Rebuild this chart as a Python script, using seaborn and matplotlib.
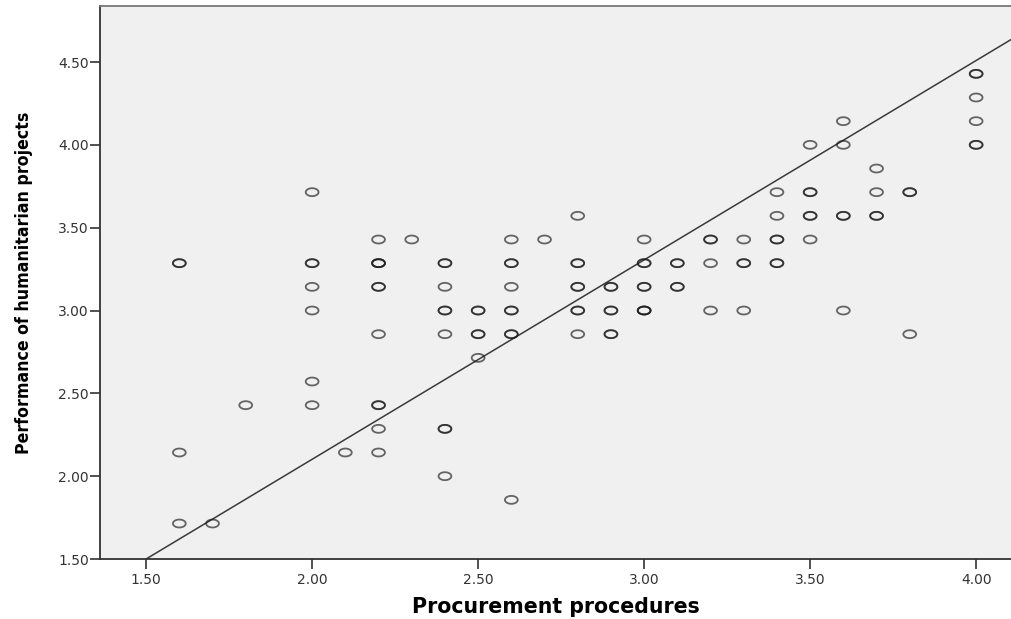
import numpy as np
import pandas as pd
import matplotlib
matplotlib.use("Agg")
import matplotlib.pyplot as plt
from matplotlib import font_manager
from matplotlib.path import Path
import seaborn as sns

# procurement score, performance score, number of cases at that point
proc_x = [1.6, 1.6, 1.6,
          1.7, 1.8,
          2.0, 2.0, 2.0, 2.0, 2.0, 2.0,
          2.1,
          2.2, 2.2, 2.2, 2.2, 2.2, 2.2, 2.2,
          2.3,
          2.4, 2.4, 2.4, 2.4, 2.4, 2.4,
          2.5, 2.5, 2.5,
          2.6, 2.6, 2.6, 2.6, 2.6, 2.6,
          2.7,
          2.8, 2.8, 2.8, 2.8, 2.8,
          2.9, 2.9, 2.9,
          3.0, 3.0, 3.0, 3.0,
          3.1, 3.1,
          3.2, 3.2, 3.2,
          3.3, 3.3, 3.3,
          3.4, 3.4, 3.4, 3.4,
          3.5, 3.5, 3.5, 3.5,
          3.6, 3.6, 3.6, 3.6,
          3.7, 3.7, 3.7,
          3.8, 3.8,
          4.0, 4.0, 4.0, 4.0]
perf_y = [3.2857, 2.1429, 1.7143,
          1.7143, 2.4286,
          3.7143, 3.2857, 3.1429, 3.0, 2.5714, 2.4286,
          2.1429,
          3.4286, 3.2857, 3.1429, 2.8571, 2.4286, 2.2857, 2.1429,
          3.4286,
          3.2857, 3.1429, 3.0, 2.8571, 2.2857, 2.0,
          3.0, 2.8571, 2.7143,
          3.4286, 3.2857, 3.1429, 3.0, 2.8571, 1.8571,
          3.4286,
          3.5714, 3.2857, 3.1429, 3.0, 2.8571,
          3.1429, 3.0, 2.8571,
          3.4286, 3.2857, 3.1429, 3.0,
          3.2857, 3.1429,
          3.4286, 3.2857, 3.0,
          3.4286, 3.2857, 3.0,
          3.7143, 3.5714, 3.4286, 3.2857,
          4.0, 3.7143, 3.5714, 3.4286,
          4.1429, 4.0, 3.5714, 3.0,
          3.8571, 3.7143, 3.5714,
          3.7143, 2.8571,
          4.4286, 4.2857, 4.1429, 4.0]
n_cases = [2, 1, 1,
           1, 1,
           1, 2, 1, 1, 1, 1,
           1,
           1, 3, 2, 1, 2, 1, 1,
           1,
           2, 1, 2, 1, 2, 1,
           2, 2, 1,
           1, 2, 1, 2, 2, 1,
           1,
           1, 2, 2, 2, 1,
           2, 2, 2,
           1, 2, 2, 3,
           2, 2,
           2, 1, 1,
           1, 2, 1,
           1, 1, 2, 2,
           1, 2, 2, 1,
           1, 1, 2, 1,
           1, 1, 2,
           2, 1,
           2, 1, 1, 2]

# fitted line (intercept, slope)
fit_a, fit_b = -0.305, 1.2035

df = pd.DataFrame({"proc": np.repeat(proc_x, n_cases),
                   "perf": np.repeat(perf_y, n_cases)})

# look for a narrow bold face for the y label (SPSS uses Arial Narrow)
narrow = None
for f in font_manager.fontManager.ttflist:
    name = (f.fname + " " + f.name).lower()
    if ("narrow" in name or "condensed" in name) and f.weight in ("bold", 700):
        narrow = f.fname
        break
if narrow:
    ylab_font = font_manager.FontProperties(fname=narrow, size=12.7)
else:
    ylab_font = font_manager.FontProperties(family="Liberation Sans",
                                            weight="bold", size=12.5)

# SPSS style slightly flattened ring marker
t = np.linspace(0, 2 * np.pi, 60)
ring = Path(np.column_stack([np.cos(t), 0.62 * np.sin(t)]), closed=True)

fig = plt.figure(figsize=(10.12, 6.19), dpi=100)
ax = fig.add_axes([0.0988, 0.0969, 0.9012, 0.8934])
ax.set_facecolor("#f0f0f0")

sns.scatterplot(data=df, x="proc", y="perf", ax=ax, marker=ring, s=85,
                facecolor="none", edgecolor=(0.1, 0.1, 0.1, 0.66),
                linewidth=1.3, zorder=3)

xl = np.array([1.5, 4.2])
ax.plot(xl, fit_a + fit_b * xl, color="#3a3a3a", lw=1.1, zorder=2)

ax.set_xlim(1.361, 4.108)
ax.set_ylim(1.5, 4.838)
ax.set_xticks([1.5, 2.0, 2.5, 3.0, 3.5, 4.0])
ax.set_yticks([1.5, 2.0, 2.5, 3.0, 3.5, 4.0, 4.5])
ax.xaxis.set_major_formatter(matplotlib.ticker.FormatStrFormatter("%.2f"))
ax.yaxis.set_major_formatter(matplotlib.ticker.FormatStrFormatter("%.2f"))
ax.tick_params(axis="both", direction="out", colors="#333333",
               labelsize=10, width=1.2, labelcolor="#333333")
ax.tick_params(axis="x", length=7, pad=3)
ax.tick_params(axis="y", length=7, pad=1)

for side in ["left", "bottom", "top"]:
    ax.spines[side].set_color("#333333")
    ax.spines[side].set_linewidth(1.3)
ax.spines["right"].set_visible(False)
ax.spines["top"].set_color("#777777")

ax.set_xlabel("Procurement procedures", fontsize=14.8, fontweight="bold",
              family="DejaVu Sans", labelpad=7)
ax.set_ylabel("Performance of humanitarian projects", fontproperties=ylab_font,
              labelpad=18)

fig.savefig("out.png", dpi=100)
